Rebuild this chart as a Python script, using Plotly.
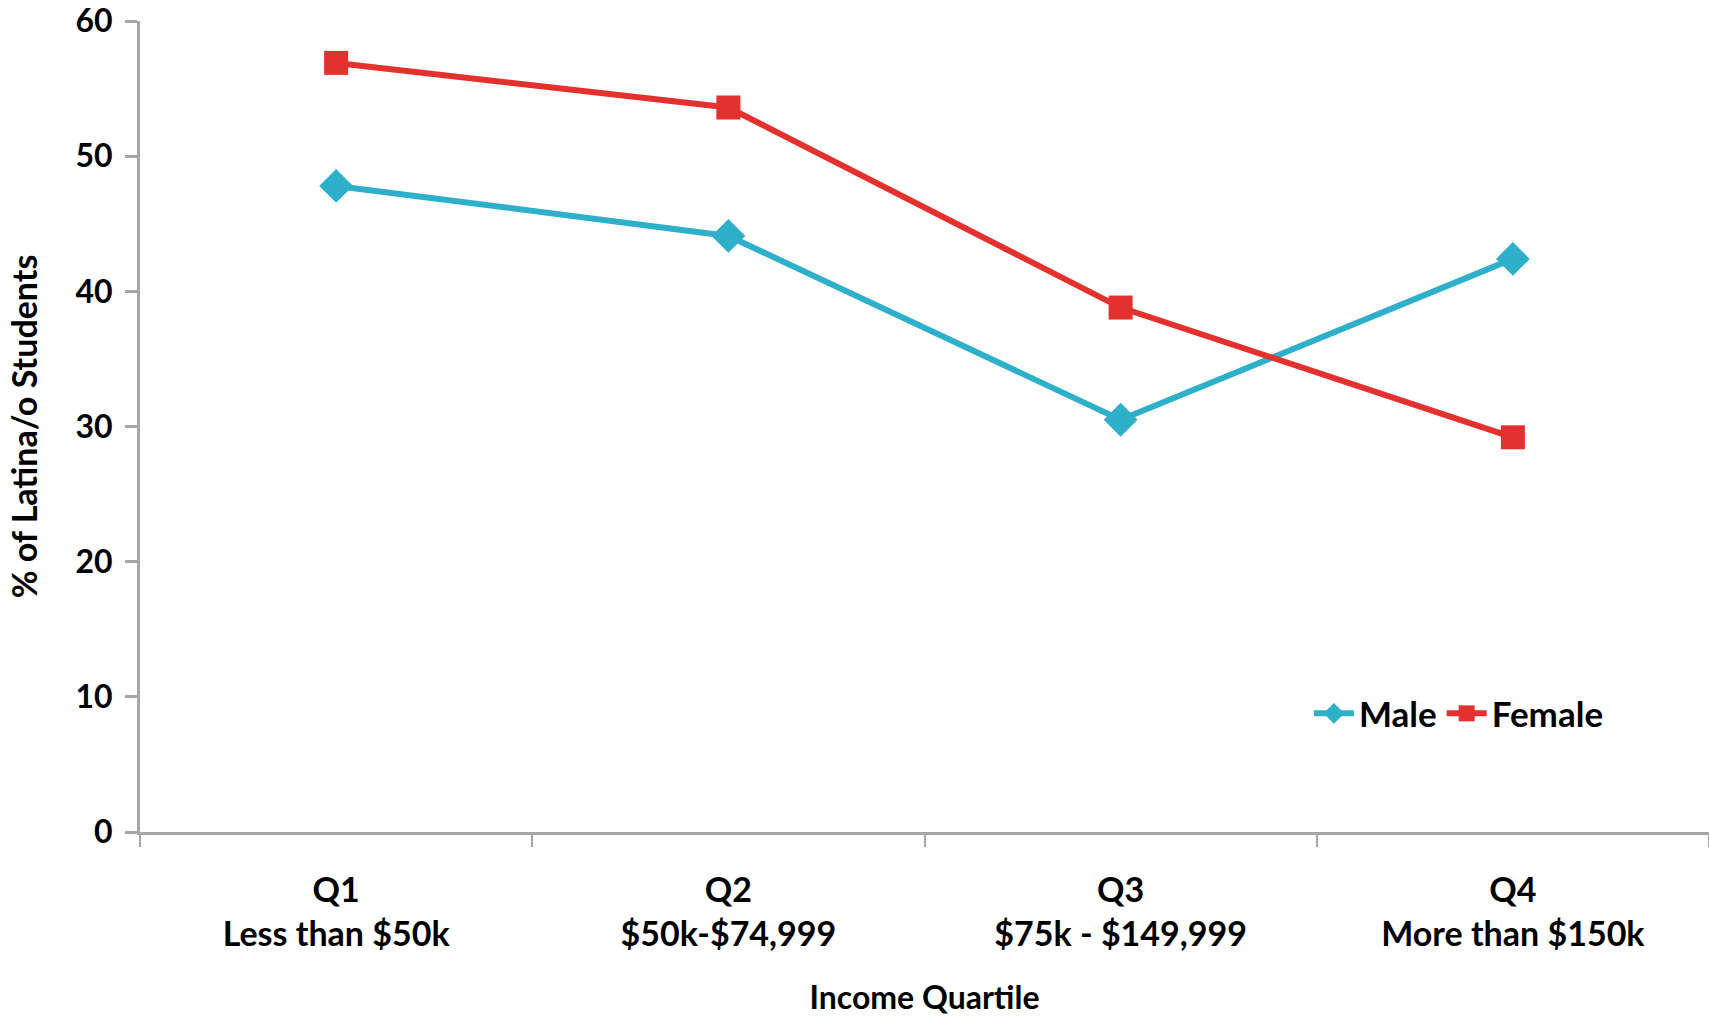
import plotly.graph_objects as go

categories = ["Q1<br>Less than $50k", "Q2<br>$50k-$74,999", "Q3<br>$75k - $149,999", "Q4<br>More than $150k"]
male = [47.8, 44.1, 30.5, 42.4]
female = [56.9, 53.6, 38.8, 29.2]
y_ticks = [0, 10, 20, 30, 40, 50, 60]

MALE_C = "#2EB0CB"
FEMALE_C = "#E3312E"
AXIS_C = "#A6A6A6"
FONT = "Lato"

fig = go.Figure()
fig.add_trace(go.Scatter(
    x=categories, y=male, name="<b>Male</b>", mode="lines+markers",
    line=dict(color=MALE_C, width=6),
    marker=dict(symbol="diamond", size=26, color=MALE_C),
))
fig.add_trace(go.Scatter(
    x=categories, y=female, name="<b>Female</b>", mode="lines+markers",
    line=dict(color=FEMALE_C, width=6),
    marker=dict(symbol="square", size=24, color=FEMALE_C),
))

fig.update_layout(
    width=1709, height=1016,
    margin=dict(l=140, r=0, t=19, b=184),
    paper_bgcolor="white", plot_bgcolor="white",
    font=dict(family=FONT, color="black"),
    showlegend=True,
    legend=dict(
        orientation="h", x=0.745, y=0.146, xanchor="left", yanchor="middle",
        font=dict(size=35, family=FONT, color="black"),
        bgcolor="rgba(0,0,0,0)", itemwidth=40,
    ),
)
fig.update_xaxes(
    type="category", range=[-0.5, 3.5],
    showline=True, linecolor=AXIS_C, linewidth=3,
    ticks="outside", tickson="boundaries", ticklen=12, tickcolor=AXIS_C, tickwidth=2,
    showgrid=False, zeroline=False,
    tickfont=dict(size=34, family=FONT, color="black"),
    ticklabelstandoff=26,
    title=dict(text="<b>Income Quartile</b>", font=dict(size=32, family=FONT, color="black"), standoff=38),
)
fig.update_xaxes(ticktext=["<b>" + c.replace("<br>", "</b><br><b>") + "</b>" for c in categories],
                 tickvals=categories)
fig.update_yaxes(
    range=[0, 60], tickvals=y_ticks, ticktext=["<b>%d</b>" % v for v in y_ticks],
    showline=True, linecolor=AXIS_C, linewidth=3,
    ticks="outside", ticklen=12, tickcolor=AXIS_C, tickwidth=3,
    showgrid=False, zeroline=False,
    tickfont=dict(size=32, family=FONT, color="black"),
    ticklabelstandoff=6, ticklabeloverflow="allow",
    title=dict(text="<b>% of Latina/o Students</b>", font=dict(size=34, family=FONT, color="black"), standoff=28),
)

fig.write_html("out.html")
